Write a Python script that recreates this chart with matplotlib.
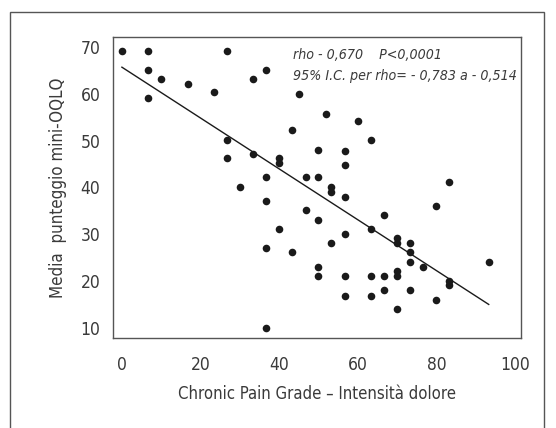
import numpy as np
import matplotlib.pyplot as plt
from matplotlib.patches import Rectangle

plt.rcParams['font.family'] = ['DejaVu Sans']
plt.rcParams['font.stretch'] = 'condensed'

# CPG pain intensity (x) and mean mini-OQLQ score (y)
pain = [0, 6.7, 6.7, 6.7, 10, 16.7, 23.3, 26.7, 26.7, 26.7,
        30, 33.3, 33.3, 36.7, 36.7, 36.7, 36.7, 36.7, 40, 40,
        40, 43.3, 43.3, 45, 46.7, 46.7, 50, 50, 50, 50,
        50, 52, 53.3, 53.3, 53.3, 56.7, 56.7, 56.7, 56.7, 56.7,
        56.7, 60, 63.3, 63.3, 63.3, 63.3, 66.7, 66.7, 66.7, 70,
        70, 70, 70, 70, 73.3, 73.3, 73.3, 73.3, 76.7, 80,
        80, 83.3, 83.3, 83.3, 93.3]
score = [69.2, 69.2, 65.2, 59.2, 63.2, 62.2, 60.3, 69.2, 50.1, 46.2,
         40.2, 63.2, 47.1, 65.2, 42.2, 37.0, 27.0, 10.0, 46.3, 45.3,
         31.2, 52.2, 26.1, 59.9, 42.2, 35.1, 48.1, 42.2, 33.1, 23.1,
         21.0, 55.7, 40.2, 39.1, 28.1, 47.8, 44.9, 38.0, 30.1, 21.0,
         16.9, 54.2, 50.1, 31.2, 21.0, 16.9, 34.1, 21.0, 18.0, 29.1,
         28.1, 22.1, 21.0, 14.0, 28.1, 26.1, 24.0, 18.0, 23.1, 36.1,
         16.0, 41.2, 20.1, 19.1, 24.0]

# regression line end points
fit_x = [0, 93.3]
fit_y = [65.7, 15.0]

xticks = [0, 20, 40, 60, 80, 100]
yticks = [10, 20, 30, 40, 50, 60, 70]

fig = plt.figure(figsize=(5.56, 4.28), dpi=100)
ax = fig.add_axes([0.203, 0.210, 0.734, 0.703])

# outer frame
fig.patches.append(Rectangle((10 / 556, -0.05), 534 / 556, 1.05 - 12 / 428,
                             transform=fig.transFigure, fill=False,
                             edgecolor='#555555', linewidth=1))

ax.scatter(pain, score, s=30, color='#1a1a1a', zorder=3, linewidths=0)
ax.plot(fit_x, fit_y, color='#1a1a1a', linewidth=1)

ax.set_xlim(-2.3, 101.5)
ax.set_ylim(7.8, 72.1)
ax.set_xticks(xticks)
ax.set_yticks(yticks)
ax.tick_params(length=0, labelsize=12.5, labelcolor='#3a3a3a')
ax.tick_params(axis='x', pad=13)
ax.tick_params(axis='y', pad=9)
for s in ax.spines.values():
    s.set_color('#555555')
    s.set_linewidth(1)

ax.set_xlabel('Chronic Pain Grade – Intensità dolore', fontsize=12,
              color='#3a3a3a', labelpad=8)
ax.set_ylabel('Media  punteggio mini-OQLQ', fontsize=12.2,
              color='#3a3a3a', labelpad=10)

ax.text(0.441, 0.94, 'rho - 0,670    P<0,0001', transform=ax.transAxes,
        style='italic', fontsize=10.2, color='#3a3a3a', va='center')
ax.text(0.441, 0.87, '95% I.C. per rho= - 0,783 a - 0,514', transform=ax.transAxes,
        style='italic', fontsize=10.2, color='#3a3a3a', va='center')

fig.savefig('out.png', dpi=100)
